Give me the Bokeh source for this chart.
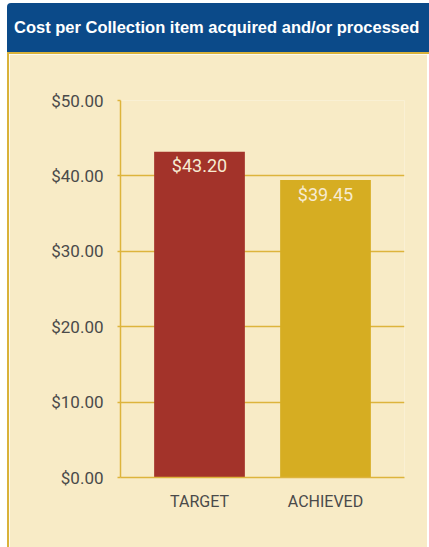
from bokeh.plotting import figure
from bokeh.models import Div, ColumnDataSource, FactorRange, Range1d, NumeralTickFormatter, FixedTicker
from bokeh.layouts import column
from bokeh.embed import file_html
from bokeh.resources import INLINE
from bokeh.core.properties import value

title_text = "Cost per Collection item acquired and/or processed"
categories = ["TARGET", "ACHIEVED"]
costs = [43.20, 39.45]
bar_colors = ["#A3332A", "#D6AD22"]
y_ticks = [0, 10, 20, 30, 40, 50]

CREAM = "#F8EBC6"
GOLD = "#DDB43C"
TEXT = "#4A4A4A"

labels = ["${:.2f}".format(v) for v in costs]
src = ColumnDataSource(dict(cat=categories, cost=costs, color=bar_colors, label=labels))

header = Div(text=title_text, width=422, height=51, margin=0, styles={
    "background-color": "#0B4A89",
    "color": "white",
    "font-family": "'Liberation Sans', sans-serif",
    "font-weight": "bold",
    "font-size": "16.5px",
    "line-height": "49px",
    "padding-left": "7px",
    "white-space": "nowrap",
    "overflow": "hidden",
    "border-top-left-radius": "4px",
    "border-bottom": "2px solid #D9B23A",
    "box-sizing": "border-box",
})

p = figure(x_range=FactorRange(factors=categories, range_padding=0.127),
           y_range=Range1d(0, 50),
           width=420, height=493, output_backend="svg", toolbar_location=None,
           min_border_left=111, min_border_right=25, min_border_top=46, min_border_bottom=70,
           background_fill_color=CREAM, border_fill_color=CREAM, outline_line_color=None)
p.styles = {"border-left": "2px solid #D9B23A"}

p.vbar(x="cat", top="cost", width=0.72, fill_color="color", line_color=None, source=src)
p.text(x="cat", y="cost", text="label", y_offset=14, text_align="center",
       text_baseline="middle", text_color="#F7EBD2", text_font=value("Roboto"),
       text_font_size="18px", source=src)

p.xgrid.grid_line_color = None
p.ygrid.grid_line_color = GOLD
p.ygrid.grid_line_width = 1.5
p.yaxis.ticker = FixedTicker(ticks=y_ticks)
p.yaxis.formatter = NumeralTickFormatter(format="$0.00")
for ax in (p.xaxis, p.yaxis):
    ax.axis_line_color = GOLD
    ax.axis_line_width = 1.5
    ax.minor_tick_line_color = None
    ax.major_label_text_color = TEXT
    ax.major_label_text_font = "Roboto"
    ax.major_label_text_font_size = "17px"
p.yaxis.major_tick_line_color = GOLD
p.yaxis.major_tick_line_width = 1.5
p.yaxis.major_tick_out = 3
p.yaxis.major_tick_in = 0
p.yaxis.major_label_standoff = 14
p.xaxis.major_tick_line_color = None
p.xaxis.major_tick_out = 0
p.xaxis.major_tick_in = 0
p.xaxis.major_label_standoff = 14
p.xaxis.major_label_text_font_size = "16px"

layout = column(header, p, spacing=0, styles={"margin-left": "7px", "margin-top": "3px"})
open("out.html", "w").write(file_html(layout, INLINE))
